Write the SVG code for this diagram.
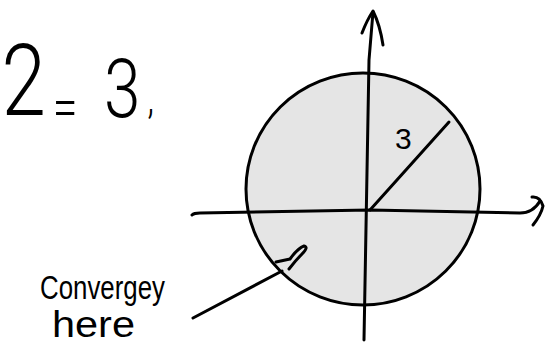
<svg xmlns="http://www.w3.org/2000/svg" width="547" height="344" viewBox="0 0 547 344">
<style>
.ink{fill:none;stroke:#000;stroke-width:3;stroke-linecap:round;stroke-linejoin:round}
.hand{font-family:"Liberation Sans","DejaVu Sans",sans-serif;fill:#000}
.thin{font-family:"Roboto","Open Sans","DejaVu Sans",sans-serif;font-weight:300;fill:#000}
</style>
<rect width="547" height="344" fill="#fff"/>
<g id="equation">
<text class="thin" transform="scale(0.8,1)" y="115" font-size="100"><tspan x="2">2</tspan><tspan x="66" y="126" font-size="56">=</tspan><tspan x="130" y="117" font-size="82">3</tspan><tspan x="184" y="113" font-size="45">,</tspan></text>
</g>
<g id="disk">
<ellipse cx="363" cy="189" rx="117" ry="116" fill="#e5e5e5" stroke="#000" stroke-width="3"/>
</g>
<g id="connectors">
<path class="ink" d="M192,215 Q194,213 200,213 L370,210 L520,213 Q533,213 540,201"/>
<path class="ink" d="M532,197 Q540,196 543,206 Q541,215 533,225"/>
<path class="ink" d="M364,340 L369,60 L373,12"/>
<path class="ink" d="M362,33 Q367,20 373,11 Q380,25 383,45"/>
<path class="ink" d="M370,210 L449,122"/>
<path class="ink" d="M193,318 L282,271"/>
<path class="ink" d="M276,262 L290,259 Q298,248 304,246 Q309,247 302,254 Q296,260 289,269"/>
</g>
<g id="radius-label">
<text class="hand" x="395" y="149" font-size="30">3</text>
</g>
<g id="note">
<text class="hand" x="40" y="299" font-size="34" textLength="125" lengthAdjust="spacingAndGlyphs">Convergey</text>
<text class="hand" x="52" y="337" font-size="36" textLength="83" lengthAdjust="spacingAndGlyphs">here</text>
</g>
</svg>
